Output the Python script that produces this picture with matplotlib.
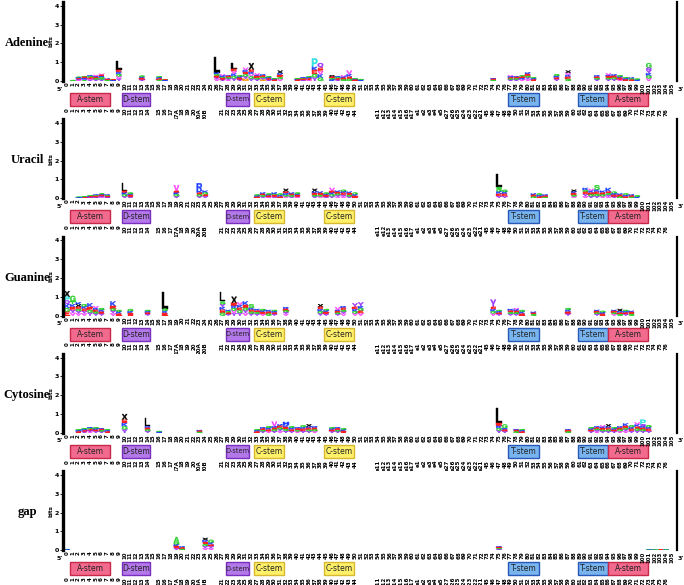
import matplotlib
matplotlib.use("Agg")
import matplotlib.pyplot as plt
import matplotlib.transforms as mtransforms
from matplotlib.textpath import TextPath
from matplotlib.patches import PathPatch, Rectangle
from matplotlib.font_manager import FontProperties

# ---- data ----
panel_names = ["Adenine", "Uracil", "Guanine", "Cytosine", "gap"]

n_pos = 106
top_labels = [str(i) for i in range(n_pos)]

# tRNA standard numbering under the structure boxes ('' = no label)
bottom_labels = ([str(i) for i in range(15)] + [""]
                 + ["15", "16", "17", "17A", "18", "19", "20", "20A", "20B"] + ["", ""]
                 + [str(i) for i in range(21, 45)] + ["", "", ""]
                 + ["e11", "e12", "e13", "e14", "e15", "e16", "e17", "e1", "e2", "e3", "e4", "e5",
                    "e27", "e26", "e25", "e24", "e23", "e22", "e21"]
                 + [str(i) for i in range(45, 77)] + [""])

struct_names = ["A-stem", "D-stem", "D-stem", "C-stem", "C-stem", "T-stem", "T-stem", "A-stem"]
struct_start = [0.5, 9.6, 27.6, 32.5, 44.6, 76.6, 88.7, 93.9]
struct_end = [7.5, 14.4, 31.6, 37.7, 49.8, 81.9, 93.9, 100.9]

# stacks: column, total height (bits), height of top letter (0 = equal split), letters top->bottom
ade_col = [1, 2, 3, 4, 5, 6, 7, 8, 9, 13, 16, 17, 26, 27, 28, 29, 30, 31, 32, 33, 34, 35, 36, 37,
           40, 41, 42, 43, 44, 46, 47, 48, 49, 50, 51, 74, 77, 78, 79, 80, 81, 85, 87, 92,
           94, 95, 96, 97, 98, 99, 101]
ade_h = [0.05, 0.22, 0.25, 0.30, 0.32, 0.38, 0.12, 0.10, 1.05, 0.28, 0.25, 0.10, 1.30, 0.35, 0.30,
         0.95, 0.30, 0.70, 0.95, 0.40, 0.35, 0.25, 0.15, 0.55, 0.15, 0.20, 0.25, 1.20, 0.95, 0.30,
         0.25, 0.30, 0.55, 0.15, 0.10, 0.15, 0.30, 0.25, 0.30, 0.45, 0.20, 0.35, 0.55, 0.30,
         0.40, 0.35, 0.30, 0.20, 0.18, 0.12, 0.95]
ade_top = [0, 0, 0, 0, 0, 0, 0, 0, 0.45, 0, 0, 0, 0.85, 0, 0, 0.30, 0, 0, 0.35, 0, 0, 0, 0, 0.15,
           0, 0, 0, 0.45, 0.25, 0, 0, 0, 0.20, 0, 0, 0, 0, 0, 0, 0, 0, 0, 0.12, 0,
           0, 0, 0, 0, 0, 0, 0.25]
ade_seq = ["GA", "GKEYV", "GEKYA", "KGEVY", "VKEGY", "VEKGAY", "KEG", "GEK", "LEKGVY", "GKEY",
           "GKEA", "GEK", "LKGEYV", "VKGEY", "KEGYV", "LEVKGY", "GKEY", "VKEGYM", "XEKVGY",
           "VKEGY", "KEGYM", "GKEY", "GKE", "XKEGV", "GKE", "KGEY", "GKEV", "PKEGY", "QEVKG",
           "XEGK", "KGEY", "VKEG", "VKEG", "GKE", "GK", "KEG", "VKEGY", "KEGY", "GEKV", "KEGYV",
           "GKE", "GKEY", "XVKEG", "KEGY", "VKEGY", "KEGY", "GKEV", "GKE", "KGE", "GK", "GQYKGV"]

ura_col = [2, 3, 4, 5, 6, 7, 10, 11, 19, 23, 24, 33, 34, 35, 36, 37, 38, 39, 40, 43, 44, 45, 46,
           47, 48, 49, 50, 75, 76, 81, 82, 83, 88, 90, 91, 92, 93, 94, 95, 96, 97, 98, 99]
ura_h = [0.08, 0.10, 0.15, 0.20, 0.25, 0.20, 0.80, 0.30, 0.70, 0.80, 0.40, 0.20, 0.30, 0.25, 0.30,
         0.25, 0.50, 0.30, 0.30, 0.50, 0.35, 0.30, 0.55, 0.40, 0.45, 0.35, 0.30, 1.30, 0.45,
         0.25, 0.25, 0.20, 0.45, 0.55, 0.50, 0.70, 0.40, 0.55, 0.35, 0.25, 0.25, 0.20, 0.15]
ura_top = [0, 0, 0, 0, 0, 0, 0.40, 0, 0.30, 0.40, 0, 0, 0, 0, 0, 0, 0.15, 0, 0, 0.15, 0, 0, 0.15,
           0, 0, 0, 0, 0.70, 0, 0, 0, 0, 0.10, 0, 0, 0.25, 0, 0.20, 0, 0, 0, 0, 0]
ura_seq = ["GK", "GKE", "GKEY", "KGEY", "GKEYV", "KGEY", "LEKGY", "GKEY", "VEKGY", "RKEGY", "KGEY",
           "GKE", "KEGY", "GKEV", "KGEY", "GKE", "XEKGV", "KEGY", "GKEV", "XKEGY", "KEGV", "GKEY",
           "VEKGY", "KEGYV", "GKEYV", "KEGY", "GKE", "LSGKEY", "GKEY", "KEG", "GKE", "KEG",
           "XKEGV", "KGEYV", "VKEGY", "SKEGY", "KEGV", "KEGYV", "GKEY", "KEG", "GKE", "KEG", "GK"]

gua_col = [0, 1, 2, 3, 4, 5, 6, 8, 9, 11, 14, 17, 27, 28, 29, 30, 31, 32, 33, 34, 35, 36, 38, 44,
           45, 47, 48, 50, 51, 74, 75, 77, 78, 79, 81, 87, 92, 93, 95, 96, 97, 98]
gua_h = [1.30, 1.05, 0.70, 0.60, 0.65, 0.50, 0.40, 0.75, 0.30, 0.35, 0.30, 1.27, 1.25, 0.30, 1.00,
         0.70, 0.75, 0.60, 0.35, 0.35, 0.30, 0.30, 0.45, 0.60, 0.35, 0.45, 0.50, 0.65, 0.70,
         0.85, 0.30, 0.35, 0.40, 0.30, 0.20, 0.40, 0.30, 0.25, 0.30, 0.35, 0.30, 0.25]
gua_top = [0.30, 0.30, 0, 0, 0.20, 0, 0, 0.25, 0, 0, 0, 0.90, 0.50, 0, 0.35, 0, 0.20, 0.20, 0, 0,
           0, 0, 0, 0.15, 0, 0.15, 0, 0.20, 0.20, 0.40, 0, 0, 0, 0, 0, 0, 0, 0, 0, 0.12, 0, 0]
gua_seq = ["XPQKGE", "GTKEYV", "KXEGYV", "GKEYV", "KEGY", "VKEGY", "GKEY", "KEGYV", "GKE", "GKE",
           "GKEY", "LGKE", "LSYKEG", "KGEY", "XEKGVY", "VKEGY", "KEGYV", "SKEGY", "KEGY", "GKEV",
           "KEG", "GKEY", "KEGYV", "XEKGY", "GKEY", "VKEGY", "KEGYV", "YEKGV", "YKGEV",
           "YEKGV", "GKEY", "KEGY", "VKEGY", "GKE", "KEG", "GKEY", "KEGY", "GKE", "KEGV",
           "XKEG", "GKEY", "KEG"]

cyt_col = [2, 3, 4, 5, 6, 7, 10, 14, 16, 23, 33, 34, 35, 36, 37, 38, 39, 40, 41, 42, 43, 46, 47,
           48, 75, 76, 78, 79, 87, 91, 92, 93, 94, 95, 96, 97, 98, 99, 100, 101]
cyt_h = [0.20, 0.25, 0.30, 0.30, 0.25, 0.20, 1.00, 0.80, 0.10, 0.15, 0.20, 0.30, 0.35, 0.60, 0.45,
         0.60, 0.35, 0.30, 0.40, 0.45, 0.35, 0.30, 0.30, 0.25, 1.30, 0.45, 0.20, 0.20, 0.20,
         0.30, 0.35, 0.40, 0.45, 0.30, 0.35, 0.50, 0.40, 0.55, 0.70, 0.40]
cyt_top = [0, 0, 0, 0, 0, 0, 0.30, 0.45, 0, 0, 0, 0, 0, 0.25, 0, 0.20, 0, 0, 0, 0.12, 0, 0, 0,
           0, 0.80, 0.20, 0, 0, 0, 0, 0, 0, 0.12, 0, 0, 0.15, 0, 0, 0.25, 0]
cyt_seq = ["GKE", "GKEY", "KGEYV", "GKEY", "KEGY", "GKE", "XEKGY", "LKEGY", "GK", "KEG", "GKE",
           "KEGY", "GKEV", "VKEGY", "KEGYV", "HKEGY", "GKEY", "KEGV", "GKEY", "XKEGY", "KEGV",
           "GKEY", "KEGY", "GKE", "LEKGY", "GKEY", "KEG", "GKE", "KEG", "GKEY", "KEGYV", "VKEGY",
           "XKEGY", "GKEY", "KEGV", "KEGYV", "GKEY", "VKEGY", "PQKEGY", "GKEY"]

gap_col = [0, 19, 20, 24, 25, 75, 101, 102, 103, 104]
gap_h = [0.06, 0.70, 0.20, 0.65, 0.55, 0.20, 0.03, 0.03, 0.03, 0.03]
gap_top = [0, 0.30, 0, 0.12, 0.15, 0, 0, 0, 0, 0]
gap_seq = ["GK", "AGKEY", "KEG", "XKEGYV", "GKEYV", "KEGY", "GK", "KG", "GE", "KG"]

panels = [(ade_col, ade_h, ade_top, ade_seq),
          (ura_col, ura_h, ura_top, ura_seq),
          (gua_col, gua_h, gua_top, gua_seq),
          (cyt_col, cyt_h, cyt_top, cyt_seq),
          (gap_col, gap_h, gap_top, gap_seq)]

# ---- styles ----
aa_colors = {"L": "black", "X": "black", "P": "#30e0e0", "Q": "#9933ff", "Y": "#9933ff",
             "E": "#ff2020", "K": "#2040ff", "R": "#2040ff", "H": "#2040ff", "G": "#30d030",
             "S": "#30d030", "T": "#30d030", "A": "#30d030", "V": "#ff40ff", "M": "#ff8c00"}
struct_fill = {"A-stem": "#f26a8d", "D-stem": "#b479e8", "C-stem": "#fff06a", "T-stem": "#78b4ee"}
struct_edge = {"A-stem": "#c8284a", "D-stem": "#7a2fc0", "C-stem": "#d8b830", "T-stem": "#2858b8"}

letter_font = FontProperties(family="Liberation Sans", weight="bold")


def draw_letter(ax, ch, x, y, w, h, color):
    tp = TextPath((0, 0), ch, size=1, prop=letter_font)
    bb = tp.get_extents()
    tr = (mtransforms.Affine2D().translate(-bb.x0, -bb.y0)
          .scale(w / bb.width, h / bb.height).translate(x - w / 2, y))
    ax.add_patch(PathPatch(tr.transform_path(tp), fc=color, ec=color, lw=0.3))


W, H = 684, 585
fig = plt.figure(figsize=(W / 100, H / 100), dpi=100)

x_left, x_right = 63, 677
ax_h = 79
for i, (cols, hts, tops, seqs) in enumerate(panels):
    zero_y = 81 + 117.3 * i
    ax = fig.add_axes([x_left / W, 1 - zero_y / H, (x_right - x_left) / W, ax_h / H])
    ax.set_xlim(-0.7, 105.9)
    ax.set_ylim(0, 4.2)

    for c, tot, top, seq in zip(cols, hts, tops, seqs):
        if top > 0:
            parts = [top] + [(tot - top) / (len(seq) - 1)] * (len(seq) - 1)
        else:
            parts = [tot / len(seq)] * len(seq)
        y = tot
        for ch, hh in zip(seq, parts):
            y -= hh
            draw_letter(ax, ch, c, y, 0.95, hh, aa_colors[ch])

    for s in ["top", "bottom"]:
        ax.spines[s].set_visible(False)
    ax.spines["left"].set_linewidth(2.4)
    ax.spines["right"].set_linewidth(1.6)
    ax.set_yticks([0, 1, 2, 3, 4])
    ax.set_yticklabels(["0", "1", "2", "3", "4"], fontsize=4.5, fontweight="bold")
    ax.tick_params(axis="y", length=2, width=0.6, pad=1)
    ax.set_ylabel("bits", fontsize=4, fontweight="bold", labelpad=1)
    ax.set_xticks(range(n_pos))
    ax.set_xticklabels(top_labels, rotation=90, fontsize=4, fontweight="bold")
    ax.tick_params(axis="x", length=0, pad=1)

    bt = mtransforms.blended_transform_factory(ax.transData, ax.transAxes)
    ax.text(-0.7, -0.07, "5'", transform=bt, fontsize=4.5, fontweight="bold", ha="right", va="top")
    ax.text(106.0, -0.07, "3'", transform=bt, fontsize=4.5, fontweight="bold", ha="left", va="top")

    # structure boxes and tRNA numbering
    for name, s0, s1 in zip(struct_names, struct_start, struct_end):
        ax.add_patch(Rectangle((s0, -0.316), s1 - s0, 0.164, transform=bt, clip_on=False,
                               fc=struct_fill[name], ec=struct_edge[name], lw=1.0))
        fs = 5.5 if s1 - s0 > 4.5 else 4.8
        ax.text((s0 + s1) / 2, -0.234, name, transform=bt, fontsize=fs, color="#222222",
                ha="center", va="center")
    for c, lab in enumerate(bottom_labels):
        if lab:
            ax.text(c, -0.34, lab, transform=bt, rotation=90, fontsize=4, fontweight="bold",
                    ha="center", va="top")

    fig.text(27 / W, 1 - (zero_y - 38) / H, panel_names[i], fontsize=9, fontweight="bold",
             family="Liberation Serif", ha="center", va="center")

fig.savefig("out.png", dpi=100)
